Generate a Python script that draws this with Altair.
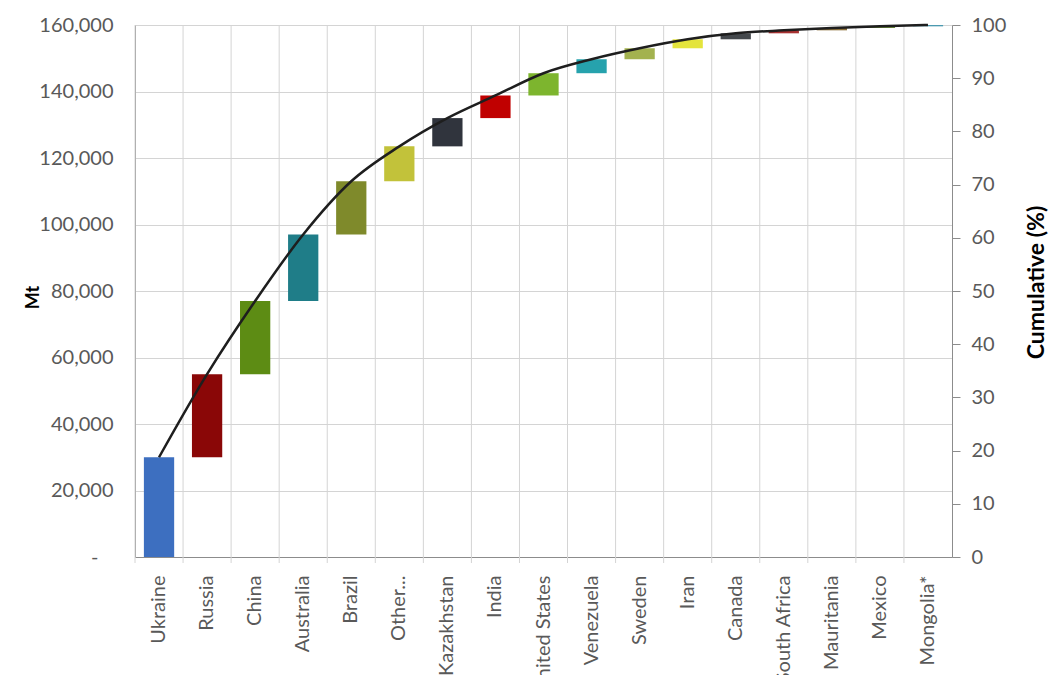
import altair as alt
import pandas as pd

countries = ["Ukraine", "Russia", "China", "Australia", "Brazil", "Other...",
             "Kazakhstan", "India", "United States", "Venezuela", "Sweden",
             "Iran", "Canada", "South Africa", "Mauritania", "Mexico", "Mongolia*"]
reserves_mt = [30000, 25000, 22000, 20000, 16000, 10500, 8500, 6800, 6700,
               4200, 3300, 2700, 1800, 900, 700, 500, 400]
bar_colors = ["#3d6fc0", "#8a0707", "#5d8c14", "#1f7d88", "#7f8a2b", "#c2c23a",
              "#30343d", "#c00000", "#7db52e", "#26a2ad", "#a3b24f", "#e4e43c",
              "#44484c", "#a83232", "#8b6f3a", "#6d8f3b", "#4c9ab0"]
mt_ticks = [0, 20000, 40000, 60000, 80000, 100000, 120000, 140000, 160000]
pct_ticks = [0, 10, 20, 30, 40, 50, 60, 70, 80, 90, 100]

total = sum(reserves_mt)
ends = pd.Series(reserves_mt).cumsum().tolist()
starts = [0] + ends[:-1]
df = pd.DataFrame({
    "country": countries,
    "start": starts,
    "end": ends,
    "pct": [e / total * 100 for e in ends],
    "color": bar_colors,
})

W, H = 817, 532
LEFT, TOP = 135, 25
FONT = "Lato"

xscale = alt.Scale(paddingInner=0, paddingOuter=0)

grid_v = alt.Chart(df).mark_rule(color="#d4d4d4", strokeWidth=1).encode(
    x=alt.X("country:N", sort=countries, scale=xscale, bandPosition=0),
    y=alt.value(0),
    y2=alt.value(H + 6),
)

bars = alt.Chart(df).mark_bar(width={"band": 0.63}).encode(
    x=alt.X("country:N", sort=countries, scale=xscale,
            axis=alt.Axis(title=None, labelAngle=270, labelFontSize=20,
                          labelColor="#595959", labelPadding=18, ticks=False,
                          tickSize=0, grid=False, domainColor="#8c8c8c",
                          labelLimit=300, labelFont=FONT)),
    y=alt.Y("start:Q", scale=alt.Scale(domain=[0, 160000], nice=False),
            axis=alt.Axis(title="Mt", values=mt_ticks, grid=True,
                          gridColor="#d4d4d4", ticks=False, tickSize=0,
                          labelPadding=22, labelFontSize=20,
                          labelColor="#595959", labelFont=FONT,
                          labelExpr="datum.value == 0 ? '-\u2800' : format(datum.value, ',')",
                          domainColor="#8c8c8c",
                          titleFontSize=18, titleFontWeight="bold",
                          titleColor="#000000", titleFont=FONT,
                          titleAngle=270, titleBaseline="middle",
                          titleAlign="center", titleX=-102, titleY=272)),
    y2="end:Q",
    color=alt.Color("color:N", scale=None),
)

line = alt.Chart(df).mark_line(color="#1e1e1e", strokeWidth=2.5,
                               interpolate="monotone").encode(
    x=alt.X("country:N", sort=countries, scale=xscale),
    y=alt.Y("pct:Q", scale=alt.Scale(domain=[0, 100], nice=False),
            axis=alt.Axis(orient="right", title="Cumulative (%)",
                          values=pct_ticks, grid=False, ticks=True,
                          tickSize=8, tickColor="#8c8c8c",
                          labelPadding=11, labelFontSize=20,
                          labelColor="#595959", labelFont=FONT,
                          domainColor="#8c8c8c",
                          titleFontSize=23, titleFontWeight="bold",
                          titleColor="#000000", titleFont=FONT,
                          titleAngle=270, titleBaseline="middle",
                          titleAlign="center", titleX=84, titleY=257)),
)

chart = alt.layer(grid_v, bars, line).resolve_scale(y="independent").properties(
    width=W, height=H,
    autosize=alt.AutoSizeParams(type="none"),
    padding={"left": LEFT, "top": TOP, "right": 1049 - LEFT - W,
             "bottom": 675 - TOP - H},
).configure(font=FONT).configure_view(stroke=None)

chart.save("out.html", embed_options={"renderer": "svg", "actions": False})
